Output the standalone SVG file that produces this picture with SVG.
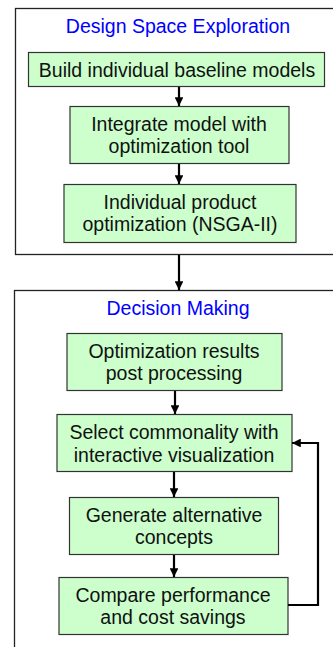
<svg xmlns="http://www.w3.org/2000/svg" width="333" height="647" viewBox="0 0 333 647">
  <defs>
    <marker id="arrow" viewBox="0 0 10 10" refX="10" refY="5" markerWidth="4" markerHeight="4" orient="auto" markerUnits="strokeWidth">
      <path d="M0,0 L10,5 L0,10 z" fill="#000"/>
    </marker>
    <style>
      .frame { fill: #fff; stroke: #222; stroke-width: 1.3; }
      .box { fill: #ccffcc; stroke: #333; stroke-width: 1.2; }
      .title { font-family: "Liberation Sans", Arial, sans-serif; font-size: 19.5px; fill: #0000ff; text-anchor: middle; }
      .label { font-family: "Liberation Sans", Arial, sans-serif; font-size: 19.5px; fill: #111; text-anchor: middle; }
      .link { fill: none; stroke: #000; stroke-width: 2.2; marker-end: url(#arrow); }
    </style>
  </defs>
  <rect width="333" height="647" fill="#fff"/>

  <!-- stage frames -->
  <g id="design-space-exploration">
    <rect class="frame" x="15.5" y="8.5" width="330" height="246"/>
    <text class="title" x="178" y="32.5">Design Space Exploration</text>
  </g>
  <g id="decision-making">
    <rect class="frame" x="14.5" y="290.5" width="330" height="370"/>
    <text class="title" x="178" y="315">Decision Making</text>
  </g>

  <!-- process steps -->
  <g id="build-models">
    <rect class="box" x="28.5" y="52.5" width="296" height="34"/>
    <text class="label" x="177" y="77">Build individual baseline models</text>
  </g>
  <g id="integrate-model">
    <rect class="box" x="70" y="106.5" width="219" height="57"/>
    <text class="label" x="179" y="131">Integrate model with</text>
    <text class="label" x="179" y="153">optimization tool</text>
  </g>
  <g id="product-optimization">
    <rect class="box" x="64" y="184.5" width="232" height="58"/>
    <text class="label" x="180" y="209">Individual product</text>
    <text class="label" x="180" y="231">optimization (NSGA-II)</text>
  </g>
  <g id="post-processing">
    <rect class="box" x="67" y="333.5" width="215" height="57"/>
    <text class="label" x="174" y="357.5">Optimization results</text>
    <text class="label" x="174" y="380">post processing</text>
  </g>
  <g id="select-commonality">
    <rect class="box" x="57" y="414.5" width="235" height="57"/>
    <text class="label" x="174" y="439">Select commonality with</text>
    <text class="label" x="174" y="461.5">interactive visualization</text>
  </g>
  <g id="generate-concepts">
    <rect class="box" x="69.5" y="497.5" width="209" height="57"/>
    <text class="label" x="174" y="521.5">Generate alternative</text>
    <text class="label" x="174" y="543.5">concepts</text>
  </g>
  <g id="compare-performance">
    <rect class="box" x="59" y="577.5" width="229" height="57"/>
    <text class="label" x="173" y="601.5">Compare performance</text>
    <text class="label" x="173" y="623.5">and cost savings</text>
  </g>

  <!-- connectors -->
  <g id="connectors">
    <path class="link" d="M179,87 V106"/>
    <path class="link" d="M179,164 V184"/>
    <path class="link" d="M179,255 V290"/>
    <path class="link" d="M175,391 V414"/>
    <path class="link" d="M174,472 V497"/>
    <path class="link" d="M174,555 V577"/>
    <path class="link" d="M288,605 H318 V443 H292"/>
  </g>
</svg>
